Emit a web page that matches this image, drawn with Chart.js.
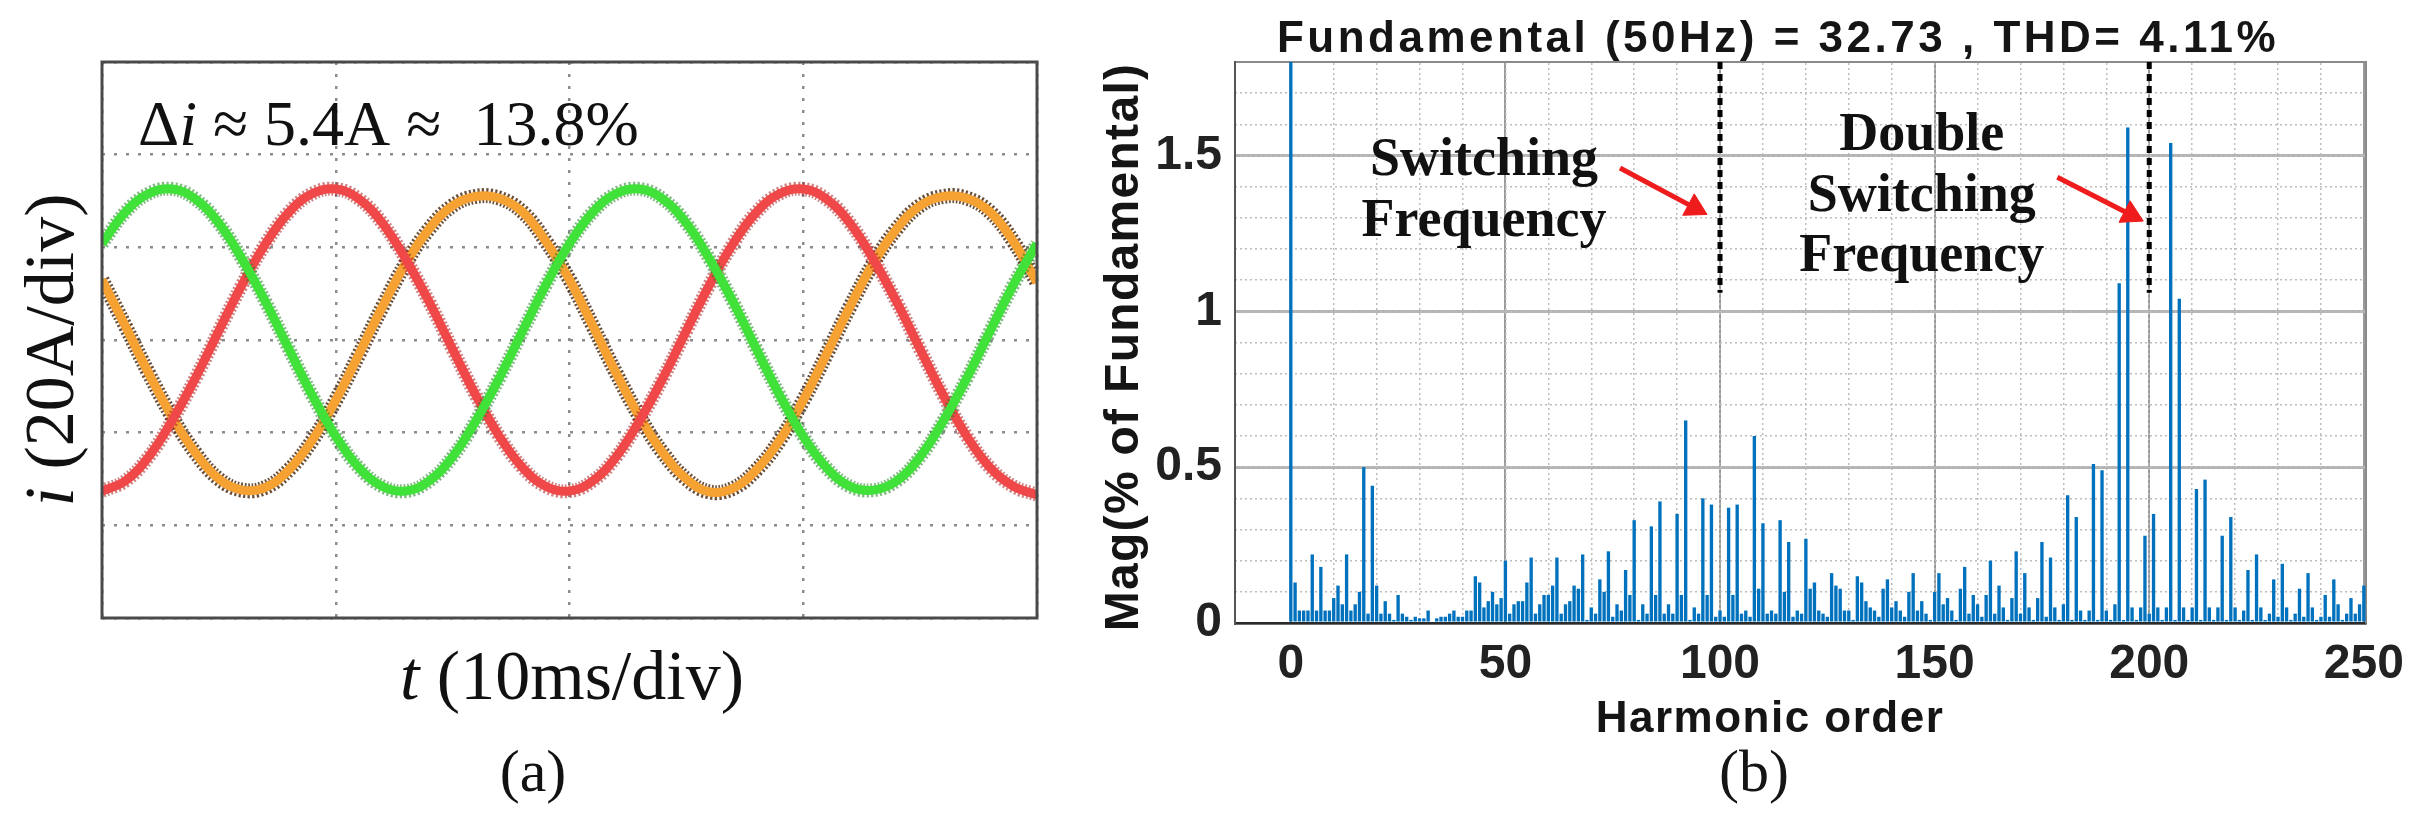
<!DOCTYPE html>
<html><head><meta charset="utf-8">
<script src="https://cdn.jsdelivr.net/npm/chart.js@4.4.1/dist/chart.umd.min.js"></script>
<style>
html,body{margin:0;padding:0;background:#fff;width:2424px;height:819px;overflow:hidden;}
#wave{position:absolute;left:0;top:0;}
#spec{position:absolute;left:1100px;top:0;}
</style></head><body>
<canvas id="wave" width="1100" height="819"></canvas>
<canvas id="spec" width="1324" height="819"></canvas>
<script>
// ================= Panel (a): three-phase currents (in divisions) =================
const timeDiv = [0,0.1,0.2,0.3,0.4,0.5,0.6,0.7,0.8,0.9,1.0,1.1,1.2,1.3,1.4,1.5,1.6,1.7,1.8,1.9,2.0,
                 2.1,2.2,2.3,2.4,2.5,2.6,2.7,2.8,2.9,3.0,3.1,3.2,3.3,3.4,3.5,3.6,3.7,3.8,3.9,4.0];
const phaseGreen  = [4.04,4.38,4.58,4.63,4.52,4.26,3.87,3.41,2.90,2.40,1.96,1.62,1.42,1.37,1.48,1.74,2.13,2.59,3.10,3.60,
                     4.04,4.38,4.58,4.63,4.52,4.26,3.87,3.41,2.90,2.40,1.96,1.62,1.42,1.38,1.48,1.74,2.13,2.59,3.10,3.60,4.04];
const phaseRed    = [1.37,1.48,1.74,2.13,2.59,3.10,3.60,4.04,4.38,4.58,4.63,4.52,4.26,3.87,3.41,2.90,2.40,1.96,1.62,1.42,
                     1.37,1.48,1.74,2.13,2.59,3.10,3.60,4.04,4.38,4.58,4.63,4.52,4.26,3.87,3.41,2.90,2.40,1.96,1.62,1.42,1.33];
const phaseOrange = [3.65,3.15,2.64,2.17,1.78,1.50,1.38,1.41,1.60,1.92,2.35,2.85,3.36,3.83,4.20,4.45,4.55,4.53,4.38,4.06,
                     3.65,3.15,2.64,2.17,1.78,1.50,1.36,1.40,1.60,1.92,2.35,2.85,3.36,3.83,4.20,4.45,4.55,4.53,4.38,4.06,3.62];
const gridDivX = [0,1,2,3,4];
const gridDivY = [0,1,2,3,4,5,6];

// ================= Panel (b): harmonic spectrum (% of fundamental) =================
const harmonicMag = [
 100, 0.13,0.04,0.04,0.04,0.22,0.04,0.18,0.04,0.04, 0.08,0.12,0.06,0.22,0.04,0.06,0.10,0.50,0.03,0.44,
 0.12,0.03,0.07,0.03,0.01,0.09,0.03,0.02,0.01,0.02, 0.015,0.015,0.04,0.005,0.015,0.02,0.02,0.03,0.04,0.02,
 0.02,0.04,0.04,0.15,0.13,0.05,0.07,0.10,0.06,0.08, 0.20,0.03,0.06,0.07,0.07,0.13,0.21,0.03,0.06,0.09,
 0.09,0.12,0.21,0.03,0.06,0.07,0.12,0.11,0.22,0.01, 0.05,0.03,0.14,0.10,0.23,0.02,0.06,0.04,0.17,0.09,
 0.33,0.01,0.06,0.03,0.31,0.09,0.39,0.03,0.06,0.03, 0.35,0.09,0.65,0.01,0.05,0.03,0.40,0.09,0.38,0.02,
 0.04,0.02,0.37,0.09,0.38,0.03,0.04,0.02,0.60,0.11, 0.32,0.03,0.04,0.03,0.33,0.10,0.26,0.02,0.04,0.03,
 0.27,0.11,0.13,0.04,0.03,0.02,0.16,0.12,0.11,0.04, 0.04,0.01,0.15,0.13,0.07,0.05,0.04,0.02,0.11,0.14,
 0.05,0.07,0.04,0.02,0.10,0.16,0.04,0.07,0.03,0.01, 0.10,0.16,0.06,0.08,0.04,0.01,0.11,0.18,0.03,0.09,
 0.06,0.02,0.09,0.20,0.03,0.12,0.05,0.01,0.08,0.23, 0.03,0.16,0.05,0.01,0.08,0.26,0.02,0.21,0.05,0.01,
 0.06,0.41,0.01,0.34,0.04,0.01,0.04,0.51,0.01,0.49, 0.04,0.01,0.06,1.09,0.01,1.59,0.05,0.01,0.05,0.28,
 0.03,0.35,0.05,0.01,0.05,1.54,0.01,1.04,0.05,0.01, 0.05,0.43,0.01,0.46,0.05,0.01,0.05,0.28,0.01,0.34,
 0.05,0.01,0.04,0.17,0.01,0.22,0.05,0.01,0.03,0.14, 0.02,0.19,0.05,0.01,0.03,0.11,0.02,0.16,0.05,0.01,
 0.02,0.09,0.02,0.14,0.06,0.01,0.03,0.08,0.03,0.06, 0.12
];
const xTickLabels = [0,50,100,150,200,250];
const yTickLabels = [0,0.5,1,1.5];
const xRange = [-13, 250.5];
const yRange = [0, 1.8];
const switchingOrders = [100, 200];
const markerSpan = [1.06, 1.8];
const arrowTail = [[76.7,1.46],[178.6,1.43]];
const arrowHead = [[94.1,1.332],[195.7,1.31]];

// ---------- Panel (a) ----------
const waveText = {
  id:'waveText',
  afterDraw(chart){
    const {ctx, chartArea:a} = chart;
    ctx.save();
    ctx.strokeStyle = '#4a4a4a'; ctx.lineWidth = 3;
    ctx.strokeRect(a.left, a.top, a.right-a.left, a.bottom-a.top);
    ctx.fillStyle = '#111';
    ctx.textBaseline = 'alphabetic'; ctx.textAlign = 'left';
    // annotation
    let x = 138; const by = 145;
    ctx.font = '64px "Liberation Serif"'; ctx.fillText('\u0394', x, by); x += ctx.measureText('\u0394').width;
    ctx.font = 'italic 64px "Liberation Serif"'; ctx.fillText('i', x, by); x += ctx.measureText('i').width;
    ctx.font = '64px "Liberation Serif"'; ctx.fillText(' \u2248 5.4A \u2248  13.8%', x, by);
    // y label rotated
    ctx.save();
    ctx.translate(55, 350); ctx.rotate(-Math.PI/2);
    ctx.textBaseline = 'middle';
    ctx.font = 'italic 70px "Liberation Serif"'; const w1 = ctx.measureText('i').width;
    ctx.font = '70px "Liberation Serif"'; const w2 = ctx.measureText(' (20A/div)').width;
    let sx = -(w1+w2)/2;
    ctx.font = 'italic 70px "Liberation Serif"'; ctx.fillText('i', sx, 0);
    ctx.font = '70px "Liberation Serif"'; ctx.fillText(' (20A/div)', sx + w1, 0);
    ctx.restore();
    // x label
    ctx.font = 'italic 70px "Liberation Serif"'; const t1 = ctx.measureText('t').width;
    ctx.font = '70px "Liberation Serif"'; const t2 = ctx.measureText(' (10ms/div)').width;
    let tx = 572 - (t1+t2)/2;
    ctx.font = 'italic 70px "Liberation Serif"'; ctx.fillText('t', tx, 699);
    ctx.font = '70px "Liberation Serif"'; ctx.fillText(' (10ms/div)', tx + t1, 699);
    // (a)
    ctx.textAlign = 'center';
    ctx.font = '60px "Liberation Serif"'; ctx.fillText('(a)', 533, 791);
    ctx.restore();
  }
};

function trace(values, color, width, order, dash){
  return {
    data: timeDiv.map((t,i)=>({x:t, y:values[i]})),
    borderColor: color, borderWidth: width, order: order,
    borderDash: dash || [], tension: 0.4, pointRadius: 0, fill: false
  };
}

new Chart(document.getElementById('wave'), {
  type: 'line',
  data: { datasets: [
    trace(phaseOrange, 'rgba(70,35,8,0.8)', 15, 6, [2,2]),
    trace(phaseOrange, '#f6a233', 9, 5),
    trace(phaseRed, 'rgba(170,30,30,0.55)', 14, 4, [2,2]),
    trace(phaseRed, '#f04848', 9, 3),
    trace(phaseGreen, 'rgba(30,130,30,0.55)', 14, 2, [2,2]),
    trace(phaseGreen, '#40e23a', 9, 1)
  ]},
  options: {
    responsive:false, animation:false, events:[],
    layout:{padding:{left:102, right:63, top:62, bottom:201}},
    plugins:{legend:{display:false}, tooltip:{enabled:false}, title:{display:false}},
    scales:{
      x:{type:'linear', min:0, max:4,
         afterBuildTicks:s=>{s.ticks = gridDivX.map(v=>({value:v}));},
         ticks:{display:false}, grid:{color:'#8c8c8c', lineWidth:2.5, drawTicks:false},
         border:{display:false, dash:[3,9]}},
      y:{type:'linear', min:0, max:6,
         afterBuildTicks:s=>{s.ticks = gridDivY.map(v=>({value:v}));},
         ticks:{display:false}, grid:{color:'#8c8c8c', lineWidth:2.5, drawTicks:false},
         border:{display:false, dash:[3,9]}}
    }
  },
  plugins:[waveText]
});

// ---------- Panel (b) ----------
const specText = {
  id:'specText',
  afterDraw(chart){
    const {ctx} = chart; const xs = chart.scales.x, ys = chart.scales.y;
    ctx.save();
    ctx.fillStyle = '#151515';
    ctx.textAlign = 'center'; ctx.textBaseline = 'alphabetic';
    ctx.font = 'bold 44px "Liberation Sans"'; ctx.letterSpacing = '3.5px';
    ctx.fillText('Fundamental (50Hz) = 32.73 , THD= 4.11%', 678, 52);
    ctx.letterSpacing = '1.5px';
    ctx.fillText('Harmonic order', 670, 732);
    ctx.letterSpacing = '0px';
    ctx.font = '60px "Liberation Serif"';
    ctx.fillText('(b)', 654, 791);
    // y label
    ctx.save();
    ctx.translate(25, 347); ctx.rotate(-Math.PI/2);
    ctx.textBaseline = 'middle';
    ctx.font = 'bold 48px "Liberation Sans"'; ctx.letterSpacing = '1.3px';
    ctx.fillText('Mag(% of Fundamental)', 0, 0);
    ctx.restore();
    // annotations
    ctx.fillStyle = '#111';
    ctx.font = 'bold 54px "Liberation Serif"';
    const ax = xs.getPixelForValue(45);
    ctx.fillText('Switching', ax, ys.getPixelForValue(1.439));
    ctx.fillText('Frequency', ax, ys.getPixelForValue(1.242));
    const bx = xs.getPixelForValue(147);
    ctx.fillText('Double', bx, ys.getPixelForValue(1.519));
    ctx.fillText('Switching', bx, ys.getPixelForValue(1.323));
    ctx.fillText('Frequency', bx, ys.getPixelForValue(1.129));
    ctx.restore();
  }
};

function arrowRotation(c){
  const ch = c.chart, xs = ch.scales.x, ys = ch.scales.y;
  const d = c.dataset.data;
  const dx = xs.getPixelForValue(d[1].x) - xs.getPixelForValue(d[0].x);
  const dy = ys.getPixelForValue(d[1].y) - ys.getPixelForValue(d[0].y);
  return Math.atan2(dy, dx) * 180 / Math.PI + 90;
}

const lineSets = [];
switchingOrders.forEach(o => lineSets.push({
  type:'line', order:1,
  data:[{x:o, y:markerSpan[1]}, {x:o, y:markerSpan[0]}],
  borderColor:'#000', borderWidth:5, borderDash:[7,5], pointRadius:0, fill:false
}));
arrowTail.forEach((t,i) => lineSets.push({
  type:'line', order:1,
  data:[{x:t[0], y:t[1]}, {x:arrowHead[i][0], y:arrowHead[i][1]}],
  borderColor:'#ee1c1c', borderWidth:5, fill:false,
  pointStyle:'triangle', pointRadius:[0,14], pointBackgroundColor:'#ee1c1c',
  pointBorderColor:'#ee1c1c', pointBorderWidth:1, pointRotation: arrowRotation
}));

new Chart(document.getElementById('spec'), {
  type:'bar',
  data:{ datasets:[
    ...lineSets,
    { type:'bar', order:2,
      data: harmonicMag.map((v,h)=>({x:h, y:v})),
      backgroundColor:'#0072BD', borderWidth:0,
      categoryPercentage:1, barPercentage:0.78 }
  ]},
  options:{
    responsive:false, animation:false, events:[],
    layout:{padding:{left:0, right:58, top:62, bottom:0}},
    plugins:{legend:{display:false}, tooltip:{enabled:false}, title:{display:false}},
    scales:{
      x:{type:'linear', position:'bottom', min:xRange[0], max:xRange[1], offset:false,
         afterBuildTicks:s=>{s.ticks = xTickLabels.map(v=>({value:v}));},
         afterFit:s=>{s.height = 196;},
         ticks:{font:{family:'"Liberation Sans"', size:48, weight:'bold'}, color:'#222', padding:13, maxRotation:0, autoSkip:false,
                callback:v=>String(v)},
         grid:{color:'#9a9a9a', lineWidth:2, drawTicks:false, offset:false},
         border:{display:true, color:'#2b2b2b', width:2.5}},
      xm:{type:'linear', position:'top', min:xRange[0], max:xRange[1], offset:false,
         ticks:{display:false, stepSize:10}, grid:{color:'#bdbdbd', lineWidth:1.5, drawTicks:false, offset:false},
         border:{display:true, color:'#8a8a8a', width:2, dash:[2,3]}},
      y:{type:'linear', position:'left', min:yRange[0], max:yRange[1],
         afterBuildTicks:s=>{s.ticks = yTickLabels.map(v=>({value:v}));},
         afterFit:s=>{s.width = 135;},
         ticks:{font:{family:'"Liberation Sans"', size:48, weight:'bold'}, color:'#222', padding:13,
                callback:v=>String(v)},
         grid:{color:'#b4b4b4', lineWidth:3, drawTicks:false},
         border:{display:true, color:'#555', width:2}},
      ym:{type:'linear', position:'right', min:yRange[0], max:yRange[1],
         ticks:{display:false, stepSize:0.1}, grid:{color:'#bdbdbd', lineWidth:1.5, drawTicks:false},
         border:{display:true, color:'#8a8a8a', width:2, dash:[2,3]}}
    }
  },
  plugins:[specText]
});
</script>
</body></html>
